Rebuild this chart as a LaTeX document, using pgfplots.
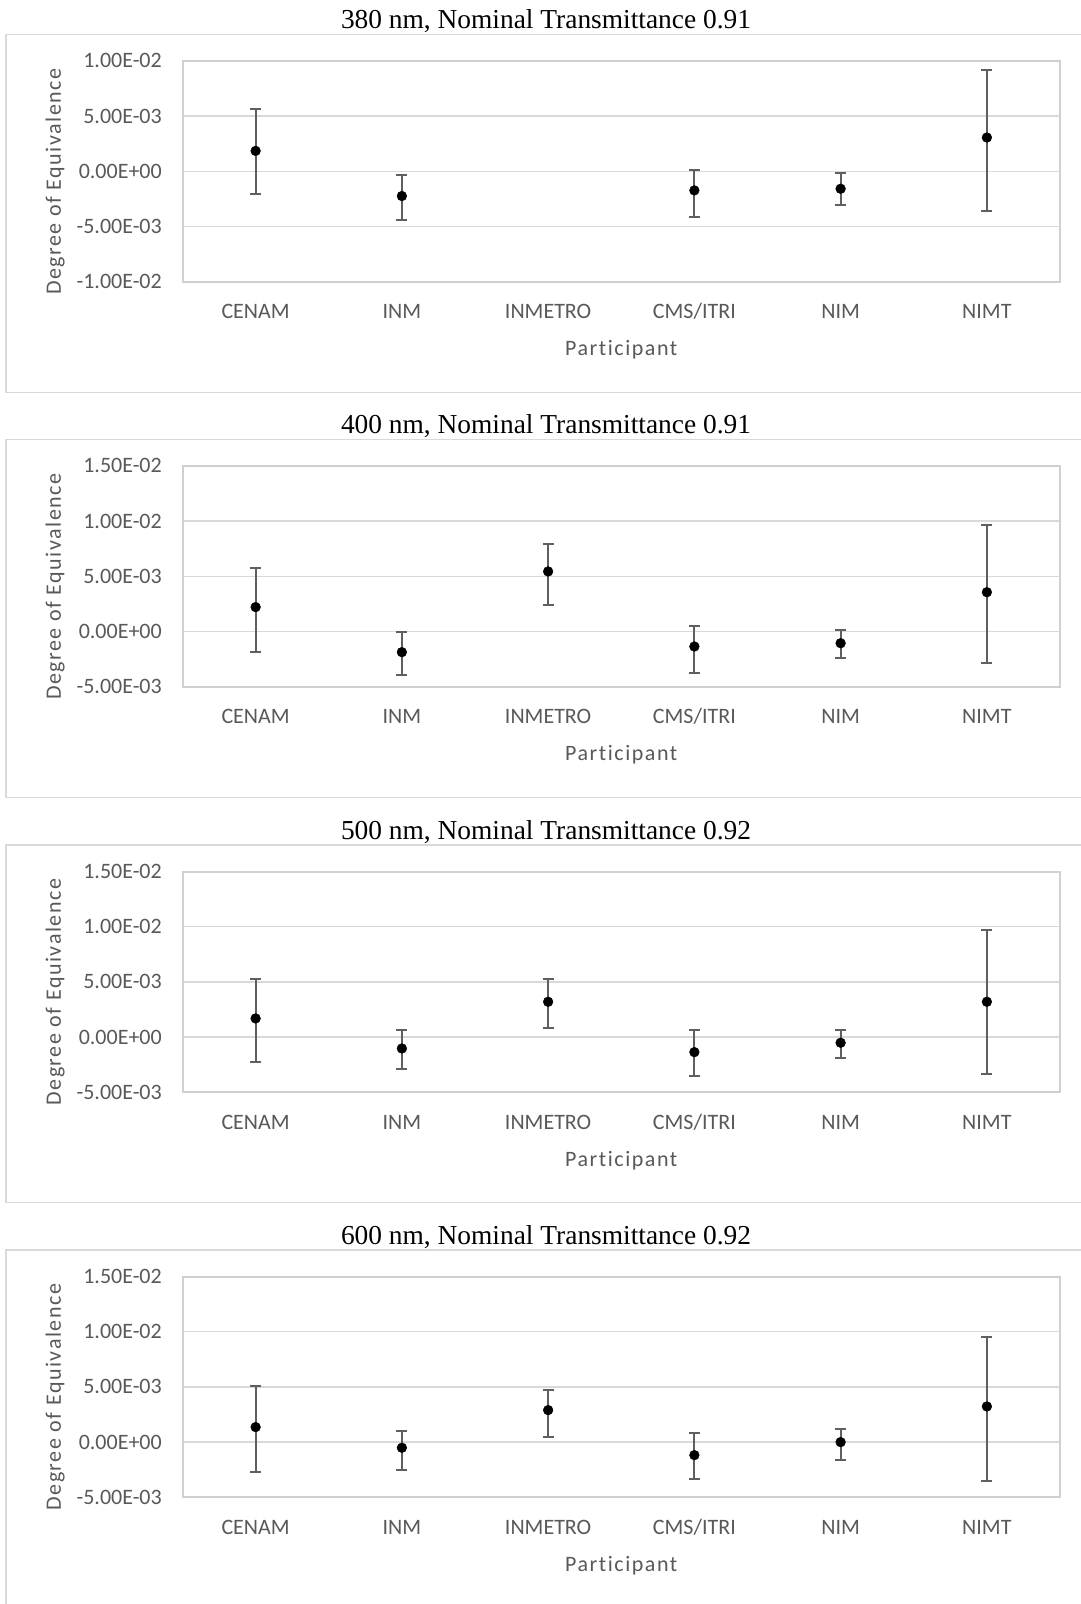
\documentclass[border=0pt]{standalone}
\usepackage{pgfplots}
\usepackage{pgfplotstable}
\pgfplotsset{compat=1.18}
\usepackage{fontspec}
\setmainfont{Carlito}[Ligatures={NoCommon}]
\newfontfamily\titlefont{Liberation Serif}
\definecolor{txt}{HTML}{595959}
\definecolor{gridc}{HTML}{D9D9D9}
\definecolor{borderc}{HTML}{D0D0D0}
\definecolor{framec}{HTML}{D9D9D9}
\definecolor{errc}{HTML}{5F5F5F}

% 380 nm
\pgfplotstableread{
x y lo hi
0 1.85e-3 -2.06e-3 5.64e-3
1 -2.24e-3 -4.45e-3 -0.33e-3
3 -1.73e-3 -4.12e-3 0.15e-3
4 -1.58e-3 -3.06e-3 -0.18e-3
5 3.06e-3 -3.58e-3 9.18e-3
}\dataA
% 400 nm
\pgfplotstableread{
x y lo hi
0 2.21e-3 -1.87e-3 5.77e-3
1 -1.87e-3 -3.93e-3 0.00e-3
2 5.44e-3 2.36e-3 7.95e-3
3 -1.36e-3 -3.78e-3 0.48e-3
4 -1.06e-3 -2.39e-3 0.15e-3
5 3.56e-3 -2.87e-3 9.67e-3
}\dataB
% 500 nm
\pgfplotstableread{
x y lo hi
0 1.69e-3 -2.21e-3 5.26e-3
1 -1.03e-3 -2.87e-3 0.66e-3
2 3.20e-3 0.85e-3 5.23e-3
3 -1.36e-3 -3.53e-3 0.66e-3
4 -0.51e-3 -1.87e-3 0.66e-3
5 3.20e-3 -3.38e-3 9.67e-3
}\dataC
% 600 nm
\pgfplotstableread{
x y lo hi
0 1.36e-3 -2.72e-3 5.08e-3
1 -0.51e-3 -2.54e-3 1.03e-3
2 2.90e-3 0.48e-3 4.74e-3
3 -1.18e-3 -3.38e-3 0.85e-3
4 0.00e-3 -1.66e-3 1.18e-3
5 3.23e-3 -3.56e-3 9.52e-3
}\dataD

\pgfplotsset{
 doe/.style={
  scale only axis, width=877.5pt, height=220.8pt,
  anchor=south west,
  xmin=-0.5, xmax=5.5,
  xtick={0,1,2,3,4,5},
  xticklabels={CENAM,INM,INMETRO,CMS/ITRI,NIM,NIMT},
  scaled y ticks=false,
  major tick length=0pt,
  tick style={draw=none},
  axis line style={draw=borderc, line width=2pt},
  ymajorgrids, grid style={draw=gridc, line width=1.5pt},
  tick label style={font=\fontsize{22}{26}\selectfont, text=txt},
  xticklabel style={anchor=base, inner sep=0pt, yshift=-37pt},
  yticklabel style={anchor=east, inner sep=0pt, xshift=-20.5pt},
  ylabel={Degree of Equivalence},
  xlabel={Participant},
  label style={font=\fontsize{22}{26}\selectfont\addfontfeature{LetterSpace=7}, text=txt},
  ylabel style={at={(axis description cs:-0.1453,0.4534)}, anchor=center},
  xlabel style={at={(axis description cs:0.5,-0.309)}, anchor=center},
  clip=false,
 },
 doeB/.style={ymin=-0.005, ymax=0.015, ytick={-0.005,0,0.005,0.01,0.015},
  yticklabels={-5.00E-03,0.00E+00,5.00E-03,1.00E-02,1.50E-02}},
 doeplot/.style={only marks, mark=*, mark size=4.9pt, mark options={fill=black, draw=black},
  error bars/.cd, y dir=both, y explicit,
  error bar style={line width=2pt, color=errc},
  error mark options={rotate=90, line width=2pt, color=errc, mark size=5.5pt}},
}

\begin{document}
\begin{tikzpicture}
\path[use as bounding box] (0pt,0pt) rectangle (1080pt,-1604pt);
\fill[white] (0pt,0pt) rectangle (1080pt,-1604pt);
\draw[framec, line width=1.3pt] (6pt,-34.3pt) rectangle (1090pt,-392.7pt);
\draw[framec, line width=1.3pt] (6pt,-439.3pt) rectangle (1090pt,-797.3pt);
\draw[framec, line width=1.3pt] (6pt,-845pt) rectangle (1090pt,-1202.7pt);
\draw[framec, line width=1.3pt] (6pt,-1250pt) rectangle (1090pt,-1620pt);

\node[anchor=base, font=\titlefont\fontsize{27.4}{32}\selectfont] at (546pt,-28.3pt) {380 nm, Nominal Transmittance 0.91};
\node[anchor=base, font=\titlefont\fontsize{27.4}{32}\selectfont] at (546pt,-433.3pt) {400 nm, Nominal Transmittance 0.91};
\node[anchor=base, font=\titlefont\fontsize{27.4}{32}\selectfont] at (546pt,-839pt) {500 nm, Nominal Transmittance 0.92};
\node[anchor=base, font=\titlefont\fontsize{27.4}{32}\selectfont] at (546pt,-1244.3pt) {600 nm, Nominal Transmittance 0.92};

\begin{axis}[doe, at={(182.5pt,-281.7pt)},
  ymin=-0.01, ymax=0.01, ytick={-0.01,-0.005,0,0.005,0.01},
  yticklabels={-1.00E-02,-5.00E-03,0.00E+00,5.00E-03,1.00E-02}]
\addplot[doeplot] table[x=x, y=y, y error plus expr=\thisrow{hi}-\thisrow{y}, y error minus expr=\thisrow{y}-\thisrow{lo}] {\dataA};
\end{axis}

\begin{axis}[doe, doeB, at={(182.5pt,-686.7pt)}]
\addplot[doeplot] table[x=x, y=y, y error plus expr=\thisrow{hi}-\thisrow{y}, y error minus expr=\thisrow{y}-\thisrow{lo}] {\dataB};
\end{axis}

\begin{axis}[doe, doeB, at={(182.5pt,-1092.3pt)}]
\addplot[doeplot] table[x=x, y=y, y error plus expr=\thisrow{hi}-\thisrow{y}, y error minus expr=\thisrow{y}-\thisrow{lo}] {\dataC};
\end{axis}

\begin{axis}[doe, doeB, at={(182.5pt,-1497.3pt)}]
\addplot[doeplot] table[x=x, y=y, y error plus expr=\thisrow{hi}-\thisrow{y}, y error minus expr=\thisrow{y}-\thisrow{lo}] {\dataD};
\end{axis}
\end{tikzpicture}
\end{document}
